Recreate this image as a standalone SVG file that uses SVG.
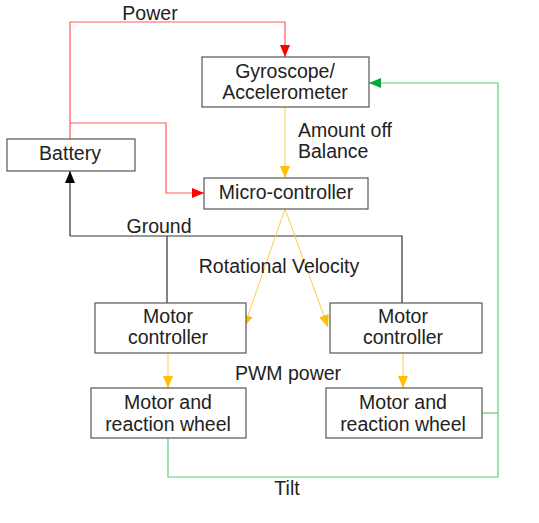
<svg xmlns="http://www.w3.org/2000/svg" width="539" height="523" viewBox="0 0 539 523">
<defs>
<style>
.box{fill:#fff;stroke:#555;stroke-width:1.2}
text{font-family:"Liberation Sans",Arial,sans-serif;font-size:19.5px;fill:#222;text-anchor:middle}
.lbl{text-anchor:start}
.red{fill:none;stroke:#ff5a5a;stroke-width:1.2}
.yel{fill:none;stroke:#ffcc44;stroke-width:1}
.grn{fill:none;stroke:#5ccf7a;stroke-width:1.2}
.blk{fill:none;stroke:#333;stroke-width:1.2}
</style>
<marker id="aR" viewBox="0 0 12 10" markerWidth="12" markerHeight="10" refX="12" refY="5" orient="auto" markerUnits="userSpaceOnUse"><path d="M0,0L12,5L0,10z" fill="#ff0000"/></marker>
<marker id="aY" viewBox="0 0 12 10" markerWidth="12" markerHeight="10" refX="12" refY="5" orient="auto" markerUnits="userSpaceOnUse"><path d="M0,0L12,5L0,10z" fill="#ffbf00"/></marker>
<marker id="aG" viewBox="0 0 12 10" markerWidth="12" markerHeight="10" refX="12" refY="5" orient="auto" markerUnits="userSpaceOnUse"><path d="M0,0L12,5L0,10z" fill="#00a933"/></marker>
<marker id="aK" viewBox="0 0 12 10" markerWidth="12" markerHeight="10" refX="12" refY="5" orient="auto" markerUnits="userSpaceOnUse"><path d="M0,0L12,5L0,10z" fill="#000"/></marker>
</defs>
<rect width="539" height="523" fill="#fff"/>
<g id="connectors">
<path class="red" d="M70,139V22H285V57" marker-end="url(#aR)"/>
<path class="red" d="M70,123H166V193H204" marker-end="url(#aR)"/>
<path class="blk" d="M70,236V171" marker-end="url(#aK)"/>
<path class="blk" d="M70,236H402V303M167,236V303"/>
<path class="yel" d="M285,107V178" marker-end="url(#aY)"/>
<path class="yel" d="M285,209L244,327" marker-end="url(#aY)"/>
<path class="yel" d="M285,209L328,327" marker-end="url(#aY)"/>
<path class="yel" d="M168,353V388" marker-end="url(#aY)"/>
<path class="yel" d="M403,353V388" marker-end="url(#aY)"/>
<path class="grn" d="M168,438V477H498V83H369" marker-end="url(#aG)"/>
<path class="grn" d="M482,413H498"/>
<text x="150" y="20">Power</text>
<text class="lbl" x="298" y="137">Amount off</text>
<text class="lbl" x="298" y="158">Balance</text>
<text x="159" y="233">Ground</text>
<text x="279" y="273">Rotational Velocity</text>
<text x="288" y="380">PWM power</text>
<text x="287" y="495">Tilt</text>
</g>
<g id="gyro"><rect class="box" x="202" y="57" width="167" height="50"/><text x="285" y="78">Gyroscope/</text><text x="285" y="99">Accelerometer</text></g>
<g id="battery"><rect class="box" x="7" y="139" width="128" height="32"/><text x="70" y="160">Battery</text></g>
<g id="micro"><rect class="box" x="204" y="178" width="164" height="31"/><text x="286" y="199">Micro-controller</text></g>
<g id="mc1"><rect class="box" x="95" y="303" width="151" height="50"/><text x="168" y="323">Motor</text><text x="168" y="344">controller</text></g>
<g id="mc2"><rect class="box" x="330" y="303" width="152" height="50"/><text x="403" y="323">Motor</text><text x="403" y="344">controller</text></g>
<g id="mw1"><rect class="box" x="91" y="388" width="155" height="50"/><text x="168" y="409">Motor and</text><text x="168" y="431">reaction wheel</text></g>
<g id="mw2"><rect class="box" x="326" y="388" width="156" height="50"/><text x="403" y="409">Motor and</text><text x="403" y="431">reaction wheel</text></g>
</svg>
